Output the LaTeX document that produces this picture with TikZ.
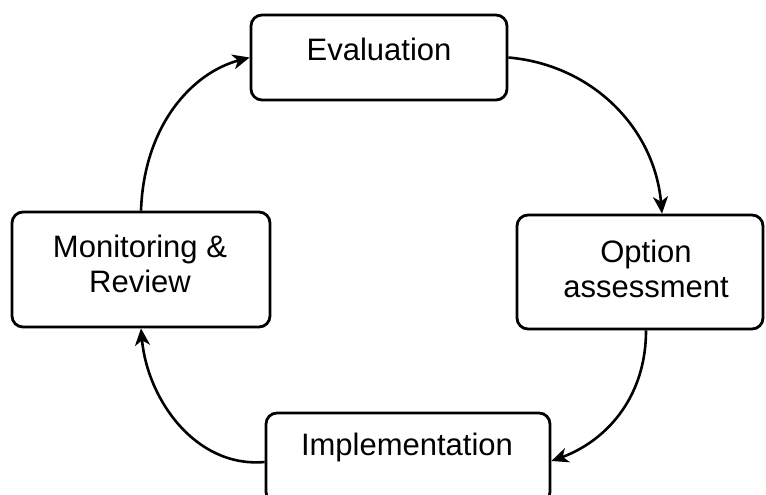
\documentclass[tikz,border=0pt]{standalone}
\usepackage{fontspec}
\setmainfont{Liberation Sans}
\usetikzlibrary{arrows.meta}
\begin{document}
\begin{tikzpicture}[x=1pt, y=-1pt,
  stagebox/.style={draw, line width=2.8pt, rounded corners=11pt, inner sep=0pt},
  stagetext/.style={font=\fontsize{31}{35}\selectfont, align=center, inner sep=0pt, anchor=base},
  conn/.style={line width=2.6pt, -{Stealth[length=17pt, width=15pt, inset=5pt]}}]
  \useasboundingbox (0,0) rectangle (766,495);
  \clip (0,0) rectangle (766,495);

  % stage boxes
  \node[stagebox, minimum width=256pt, minimum height=85pt] (eval) at (379,57.5) {};
  \node[stagebox, minimum width=246pt, minimum height=114pt] (opt) at (640,272) {};
  \node[stagebox, minimum width=284pt, minimum height=90pt] (impl) at (408,458) {};
  \node[stagebox, minimum width=258pt, minimum height=115pt] (mon) at (141,269.5) {};

  % stage labels (base anchor sits on the last line)
  \node[stagetext] (evaltxt) at (379,60) {Evaluation};
  \node[stagetext] (opttxt) at (646,297) {Option\\assessment};
  \node[stagetext] (impltxt) at (407,455) {Implementation};
  \node[stagetext] (montxt) at (140,292) {Monitoring \&\\Review};

  % cycle connectors (polar offsets in pt use screen directions)
  \draw[conn] (mon.north) .. controls +(88:85pt) and +(195:60pt) .. (eval.west);
  \draw[conn] (eval.east) .. controls +(-5:85pt) and +(95:85pt) .. ([xshift=22pt]opt.north);
  \draw[conn] ([xshift=6pt]opt.south) .. controls +(-90:70pt) and +(20:55pt) .. ([yshift=-3pt]impl.east);
  \draw[conn] ([yshift=-4pt]impl.west) .. controls +(185:70pt) and +(-85:70pt) .. (mon.south);
\end{tikzpicture}
\end{document}
